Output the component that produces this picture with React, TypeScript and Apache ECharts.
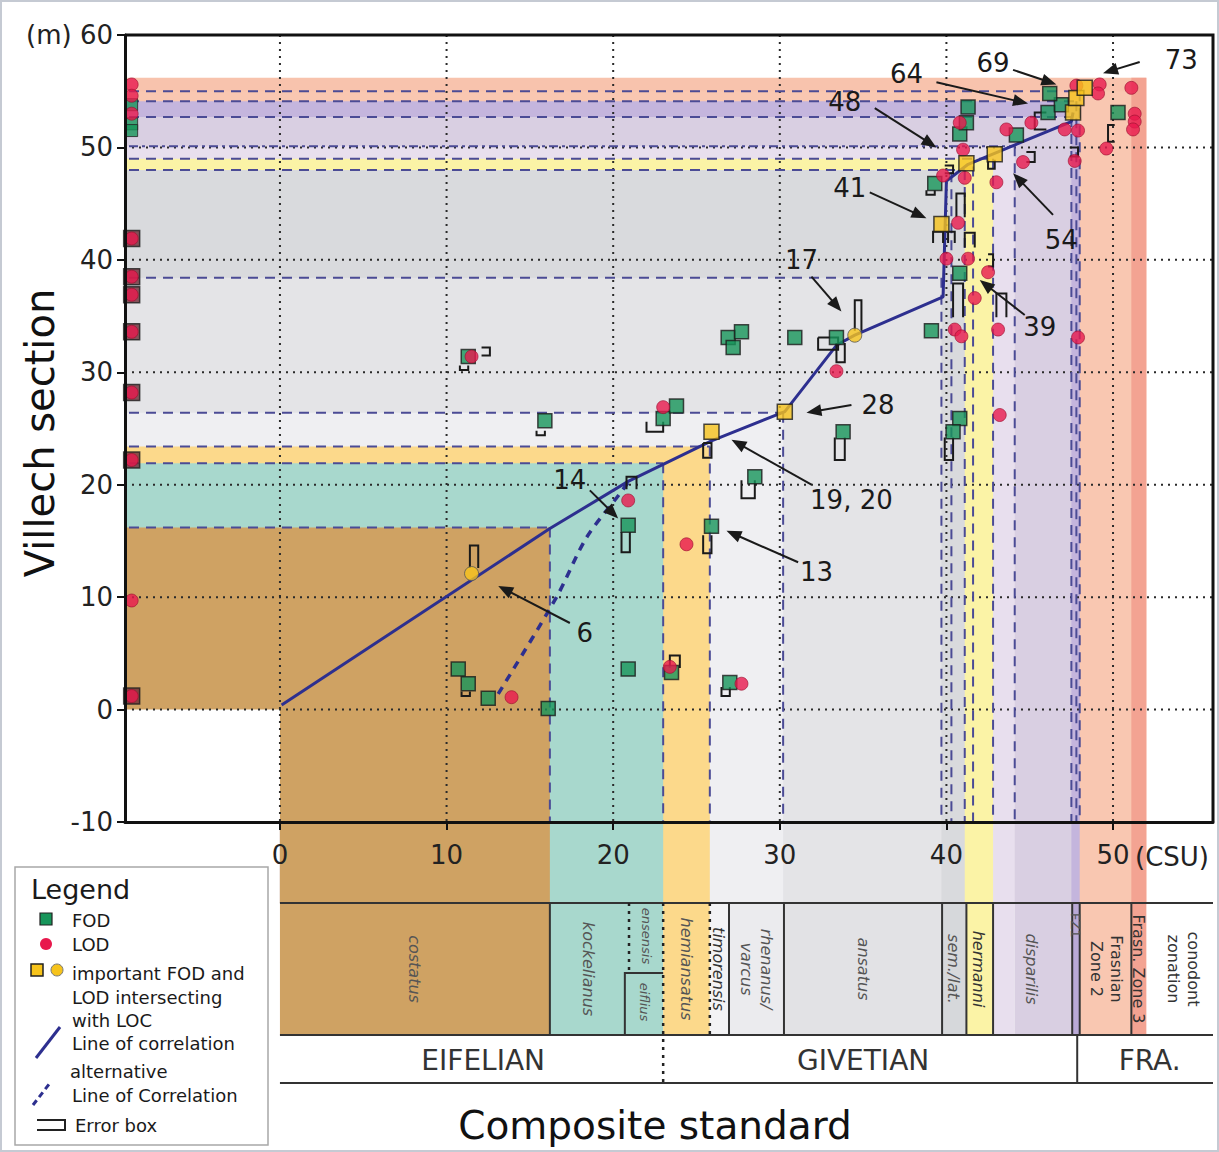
import React, { useEffect, useRef } from "react";
import * as echarts from "echarts";

const FONT = "'DejaVu Sans', Verdana, sans-serif";

const X_MIN = -9.3;
const X_MAX = 56;
const Y_MIN = -10;
const Y_MAX = 60;
const xTickValues = [0, 10, 20, 30, 40, 50];
const gridXValues = [0, 10, 20, 30, 40, 50];
const gridYValues = [0, 10, 20, 30, 40, 50];

// FOD (green squares)
const fodPoints = [
  [15.9, 25.7], [23.0, 25.9], [23.8, 27.0], [28.5, 20.7], [20.9, 16.4], [25.9, 16.3],
  [10.7, 3.6], [11.3, 2.3], [12.5, 1.0], [16.1, 0.1], [20.9, 3.6], [23.5, 3.3], [27.0, 2.4],
  [11.3, 31.4], [26.9, 33.1], [27.7, 33.6], [27.2, 32.2], [30.9, 33.1], [33.4, 33.1],
  [33.8, 24.7], [39.1, 33.7], [40.8, 38.8], [40.8, 25.9], [40.4, 24.7], [39.3, 46.8],
  [40.8, 51.2], [41.2, 52.2], [41.3, 53.6], [44.2, 51.1], [46.1, 53.1], [46.9, 53.8],
  [46.2, 54.8], [50.3, 53.1],
];
// LOD (red circles)
const lodPoints = [
  [23.0, 26.9], [20.9, 18.6], [24.4, 14.7], [13.9, 1.1], [23.4, 3.8], [27.7, 2.3],
  [11.5, 31.4], [33.4, 30.1], [40.0, 40.1], [41.3, 40.1], [42.5, 38.9], [41.7, 36.6],
  [40.5, 33.8], [40.9, 33.2], [43.1, 33.8], [47.9, 33.1], [43.2, 26.2], [40.7, 43.3],
  [39.8, 47.5], [41.1, 47.3], [41.0, 49.8], [40.8, 52.2], [43.0, 46.9], [44.6, 48.7],
  [43.6, 51.6], [45.1, 52.2], [47.1, 51.6], [47.9, 51.5], [47.8, 55.5], [49.2, 55.6],
  [49.1, 54.8], [47.7, 48.8], [51.1, 55.3], [51.3, 53.0], [51.3, 52.3], [51.2, 51.6],
  [49.6, 49.9],
];
// important FOD / LOD intersecting the LOC
const keyFodPoints = [
  [25.9, 24.7], [30.3, 26.5], [39.7, 43.2], [41.2, 48.6], [42.9, 49.4], [47.6, 53.1],
  [47.8, 54.4], [48.3, 55.3],
];
const keyLodPoints = [[11.5, 12.1], [34.5, 33.3]];

// markers on the left margin column
const leftColumnX = -8.9;
const leftBoxedLod = [41.9, 38.5, 36.9, 33.6, 28.2, 22.2, 1.2];
const leftLod = [55.6, 54.6, 53.0, 9.7];
const leftFod = [53.8, 52.1, 51.5];

// line of correlation
const locLine = [
  [0.1, 0.4], [16.2, 16.1], [20.9, 20.3], [25.9, 23.9], [30.3, 26.5], [33.4, 32.4],
  [34.5, 33.3], [39.8, 36.7], [40.0, 47.0], [41.3, 48.5], [47.5, 52.3], [47.6, 53.1],
];
const altLocLine = [[13.1, 1.4], [16.6, 10.0], [18.4, 15.3], [20.4, 19.2], [21.0, 20.4]];

// error boxes: x1, x2, y1, y2, open side (0 none, 1 top, 2 bottom, 3 left, 4 right)
const errorBoxes = [
  [11.4, 11.9, 12.6, 14.6, 2], [20.5, 21.0, 14.0, 15.8, 1], [20.8, 21.4, 19.6, 20.7, 2],
  [25.4, 25.9, 13.9, 15.5, 1], [25.4, 25.9, 22.4, 23.7, 0], [27.7, 28.5, 18.8, 20.4, 1],
  [15.4, 15.9, 24.4, 24.8, 1], [22.0, 23.0, 24.7, 25.6, 1], [10.9, 11.4, 1.2, 1.6, 1],
  [23.4, 24.0, 3.7, 4.8, 2], [26.5, 27.0, 1.2, 2.0, 1], [10.8, 11.3, 30.2, 30.6, 1],
  [12.1, 12.6, 31.5, 32.2, 3], [34.5, 34.9, 33.7, 36.4, 2], [32.3, 33.5, 32.0, 33.1, 0],
  [33.4, 33.9, 30.9, 32.6, 1], [33.3, 33.9, 22.2, 24.2, 1], [39.9, 40.4, 22.2, 24.2, 1],
  [40.4, 41.0, 34.9, 37.9, 2], [43.0, 43.6, 34.9, 37.0, 2], [39.2, 39.8, 41.5, 42.5, 2],
  [40.1, 40.5, 41.5, 42.5, 2], [41.1, 41.7, 41.1, 42.4, 2], [40.6, 41.1, 43.8, 45.9, 2],
  [39.9, 40.4, 47.7, 48.4, 3], [38.8, 39.3, 45.8, 46.2, 1], [42.5, 42.9, 48.1, 48.9, 1],
  [44.8, 45.3, 48.7, 49.6, 3], [45.3, 46.0, 51.6, 53.1, 4], [47.4, 47.9, 49.2, 50.0, 3],
  [42.5, 42.8, 39.4, 40.5, 3], [49.7, 50.1, 50.5, 52.0, 4],
];

// biozone bands: right edge (CSU), top (m)
const bandRight = [16.2, 23.0, 25.8, 30.2, 39.7, 41.1, 42.8, 44.1, 47.5, 48.0, 51.1, 52.0];
const bandTop = [16.2, 21.9, 23.4, 26.4, 38.4, 48.0, 49.0, 50.1, 52.7, 54.1, 55.0, 56.2];
const bandColor = [
  "#cfa263", "#a8d8cd", "#fcd98b", "#efeff2", "#e4e4e7", "#d9dadd", "#fbf3a6",
  "#e8dfee", "#d9cfe2", "#c4b5dd", "#f9c7b1", "#f8c3ad",
];
const zone3Strip = [51.1, 52.0, 56.2];

// dashed boundary lines
const dashH = [
  [16.2, 16.2], [21.9, 23.0], [23.4, 25.8], [26.4, 30.2], [38.4, 39.7], [48.0, 41.1],
  [49.0, 42.8], [52.7, 47.5], [54.1, 47.8], [55.0, 48.0],
];
const dashDotH = [[50.1, 44.1]];
const dashV = [
  [16.2, 16.2], [23.0, 21.9], [25.8, 23.4], [30.2, 26.4], [39.7, 38.4], [40.3, 47.8],
  [41.1, 48.0], [41.6, 48.3], [42.8, 49.0], [44.1, 50.1], [47.5, 52.7], [47.8, 54.1],
  [48.0, 55.0],
];

// conodont zonation table
const zoneCells = [
  [0, 16.2], [16.2, 23.0], [23.0, 25.8], [25.8, 26.95], [26.95, 30.25], [30.25, 39.74],
  [39.74, 41.2], [41.2, 42.8], [42.8, 44.1], [44.1, 47.55], [47.55, 48.0], [48.0, 51.1],
  [51.1, 52.0],
];
const zoneCellColor = [
  "#cfa263", "#a8d8cd", "#fcd98b", "#f3f3f5", "#ebebee", "#e2e2e5", "#d6d8db", "#fbf3a6",
  "#e8dfee", "#d9cfe2", "#b9a9d6", "#f9c7b1", "#f3a392",
];
const zoneSolidBounds = [16.2, 26.95, 30.25, 39.74, 41.2, 42.8, 47.55, 48.0, 51.1];
const zoneLabels = [
  "costatus", "kockelianus", "ensensis", "eiflius", "hemiansatus", "timorensis",
  "rhenanus/\nvarcus", "ansatus", "sem./lat.", "hermanni", "disparilis", "FZ1",
  "Frasnian\nZone 2", "Frasn. Zone 3", "conodont\nzonation",
];
const zoneLabelX = [8.1, 18.5, 22.0, 21.9, 24.4, 26.3, 28.6, 35.0, 40.45, 41.95, 45.1, 47.75, 49.6, 51.55, 54.2];
const zoneLabelRow = [0.5, 0.5, 0.25, 0.75, 0.5, 0.5, 0.5, 0.5, 0.5, 0.5, 0.5, 0.17, 0.5, 0.5, 0.5];
const zoneLabelItalic = [1, 1, 1, 1, 1, 1, 1, 1, 1, 1, 1, 0, 0, 0, 0];
const stageLabels = ["EIFELIAN", "GIVETIAN", "FRA."];
const stageLabelX = [12.2, 35.0, 52.2];
const givetianFrasnianX = 47.85;

// numbered annotations: label, text pos, arrow start, arrow tip
const annLabels = ["73", "69", "64", "48", "41", "54", "17", "39", "28", "19, 20", "13", "14", "6"];
const annText = [
  [54.1, 57.8], [42.8, 57.5], [37.6, 56.5], [33.9, 54.0], [34.2, 46.4], [46.9, 41.8],
  [31.3, 40.0], [45.6, 34.0], [35.9, 27.1], [34.3, 18.6], [32.2, 12.2], [17.4, 20.4],
  [18.3, 6.8],
];
const annFrom = [
  [51.6, 57.6], [44.0, 56.9], [39.4, 55.8], [35.7, 53.5], [35.4, 46.0], [46.4, 44.0],
  [31.9, 38.5], [44.7, 35.1], [34.3, 27.1], [31.9, 20.0], [31.1, 13.1], [18.6, 19.5],
  [17.4, 7.7],
];
const annTo = [
  [49.4, 56.6], [46.6, 55.6], [44.9, 53.9], [39.4, 50.0], [38.8, 43.7], [44.0, 47.7],
  [33.7, 35.4], [42.0, 38.2], [31.6, 26.4], [27.1, 24.0], [26.8, 15.9], [20.3, 17.0],
  [13.1, 11.0],
];

const GREEN = "#17955a";
const RED = "#e8194d";
const YELLOW = "#f6c31b";
const LOC_BLUE = "#2d2f8f";
const DASH_BLUE = "#4b4b95";

export default function App() {
  const ref = useRef<HTMLDivElement>(null);

  useEffect(() => {
    const chart = echarts.init(ref.current as HTMLDivElement, null, { renderer: "svg" });

    const baseOption: any = {
      animation: false,
      backgroundColor: "#ffffff",
      grid: { left: 125, right: 6, top: 35, bottom: 330, containLabel: false },
      xAxis: {
        type: "value",
        min: X_MIN,
        max: X_MAX,
        z: 8,
        axisLine: { show: true, onZero: false, lineStyle: { color: "#111", width: 3 } },
        axisTick: { show: true, customValues: xTickValues, length: 8, lineStyle: { color: "#111", width: 2 } },
        axisLabel: {
          customValues: xTickValues,
          margin: 20,
          fontSize: 26,
          fontFamily: FONT,
          color: "#222",
          formatter: (v: number) => String(v),
        },
        splitLine: { show: false },
      },
      yAxis: {
        type: "value",
        min: Y_MIN,
        max: Y_MAX,
        interval: 10,
        z: 8,
        axisLine: { show: true, onZero: false, lineStyle: { color: "#111", width: 3 } },
        axisTick: { show: true, length: 8, lineStyle: { color: "#111", width: 2 } },
        axisLabel: {
          margin: 12,
          fontSize: 26,
          fontFamily: FONT,
          color: "#222",
          formatter: (v: number) => (v === 60 ? "(m) 60" : String(v)),
        },
        splitLine: { show: false },
      },
      series: [
        {
          type: "line",
          name: "LOC",
          data: locLine,
          symbol: "none",
          z: 4,
          lineStyle: { color: LOC_BLUE, width: 3 },
        },
        {
          type: "line",
          name: "alternative LOC",
          data: altLocLine,
          symbol: "none",
          smooth: 0.3,
          z: 4,
          lineStyle: { color: LOC_BLUE, width: 3.5, type: [8, 7] },
        },
        {
          type: "custom",
          name: "Error box",
          data: errorBoxes,
          z: 5,
          clip: false,
          renderItem: (_params: any, api: any) => {
            const a = api.coord([api.value(0), api.value(2)]);
            const b = api.coord([api.value(1), api.value(3)]);
            const x1 = a[0];
            const x2 = b[0];
            const yb = a[1];
            const yt = b[1];
            const open = api.value(4);
            let pts: number[][];
            if (open === 1) pts = [[x1, yt], [x1, yb], [x2, yb], [x2, yt]];
            else if (open === 2) pts = [[x1, yb], [x1, yt], [x2, yt], [x2, yb]];
            else if (open === 3) pts = [[x1, yt], [x2, yt], [x2, yb], [x1, yb]];
            else if (open === 4) pts = [[x2, yt], [x1, yt], [x1, yb], [x2, yb]];
            else pts = [[x1, yt], [x2, yt], [x2, yb], [x1, yb], [x1, yt]];
            return {
              type: "polyline",
              shape: { points: pts },
              style: { stroke: "#1a1a1a", fill: null, lineWidth: 2 },
            };
          },
        },
        {
          type: "scatter",
          name: "left boxes",
          data: leftBoxedLod.map((y) => [leftColumnX, y]),
          symbol: "rect",
          symbolSize: 16,
          z: 6,
          itemStyle: { color: "#6e2a36", borderColor: "#1e1e1e", borderWidth: 1.5 },
        },
        {
          type: "scatter",
          name: "FOD left",
          data: leftFod.map((y) => [leftColumnX, y]),
          symbol: "rect",
          symbolSize: 12,
          z: 6,
          itemStyle: { color: GREEN, borderColor: "#222", borderWidth: 1 },
        },
        {
          type: "scatter",
          name: "FOD",
          data: fodPoints,
          symbol: "rect",
          symbolSize: 14,
          z: 6,
          itemStyle: { color: GREEN, borderColor: "#1b1b1b", borderWidth: 1.5 },
        },
        {
          type: "scatter",
          name: "LOD",
          data: lodPoints.concat(leftBoxedLod.map((y) => [leftColumnX, y]), leftLod.map((y) => [leftColumnX, y])),
          symbol: "circle",
          symbolSize: 13,
          z: 7,
          itemStyle: { color: RED, borderColor: "#9a1030", borderWidth: 0.8 },
        },
        {
          type: "scatter",
          name: "important FOD",
          data: keyFodPoints,
          symbol: "rect",
          symbolSize: 15,
          z: 8,
          itemStyle: { color: YELLOW, borderColor: "#1b1b1b", borderWidth: 1.5 },
        },
        {
          type: "scatter",
          name: "important LOD",
          data: keyLodPoints,
          symbol: "circle",
          symbolSize: 14,
          z: 8,
          itemStyle: { color: YELLOW, borderColor: "#555", borderWidth: 1 },
        },
      ],
    };

    chart.setOption(baseOption);

    const p = (x: number, y: number): number[] =>
      chart.convertToPixel({ gridIndex: 0 }, [x, y]) as number[];

    const g: any[] = [];
    const left = p(X_MIN, 0)[0];
    const right = p(X_MAX, 0)[0];
    const top = p(0, Y_MAX)[1];
    const bottom = p(0, Y_MIN)[1];
    const x0 = p(0, 0)[0];
    const row1 = bottom + 81;
    const row2 = row1 + 132;
    const row3 = row2 + 48;
    const stepY = row1 + 70;

    // biozone bands (drawn from outer to inner)
    for (let i = bandRight.length - 1; i >= 0; i--) {
      const xr = p(bandRight[i], 0)[0];
      const yt = p(0, bandTop[i])[1];
      g.push({ type: "rect", z: 0, shape: { x: left, y: yt, width: xr - left, height: bottom - yt }, style: { fill: bandColor[i] } });
      g.push({ type: "rect", z: 0, shape: { x: x0, y: bottom, width: xr - x0, height: row1 - bottom }, style: { fill: bandColor[i] } });
    }
    {
      const xa = p(zone3Strip[0], 0)[0];
      const xb = p(zone3Strip[1], 0)[0];
      const yt = p(0, zone3Strip[2])[1];
      g.push({ type: "rect", z: 0, shape: { x: xa, y: yt, width: xb - xa, height: row1 - yt }, style: { fill: "#f3a392" } });
    }
    // white corner (x<0, y<0)
    {
      const c = p(0, 0);
      g.push({ type: "rect", z: 0, shape: { x: left, y: c[1], width: c[0] - left, height: bottom - c[1] }, style: { fill: "#ffffff" } });
    }

    // dotted grid
    gridXValues.forEach((v) => {
      const x = p(v, 0)[0];
      g.push({ type: "line", z: 1, shape: { x1: x, y1: top, x2: x, y2: bottom }, style: { stroke: "#2a2a2a", lineWidth: 2, lineDash: [2, 5] } });
    });
    gridYValues.forEach((v) => {
      const y = p(0, v)[1];
      g.push({ type: "line", z: 1, shape: { x1: left, y1: y, x2: right, y2: y }, style: { stroke: "#2a2a2a", lineWidth: 2, lineDash: [2, 5] } });
    });

    // dashed boundary lines
    dashH.forEach(([yv, xe]) => {
      const a = p(X_MIN, yv);
      const b = p(xe, yv);
      g.push({ type: "line", z: 2, shape: { x1: a[0] + 4, y1: a[1], x2: b[0], y2: b[1] }, style: { stroke: DASH_BLUE, lineWidth: 2, lineDash: [10, 7] } });
    });
    dashDotH.forEach(([yv, xe]) => {
      const a = p(X_MIN, yv);
      const b = p(xe, yv);
      g.push({ type: "line", z: 2, shape: { x1: a[0] + 4, y1: a[1], x2: b[0], y2: b[1] }, style: { stroke: DASH_BLUE, lineWidth: 2, lineDash: [9, 4, 3, 4] } });
    });
    dashV.forEach(([xv, yt]) => {
      const a = p(xv, yt);
      g.push({ type: "line", z: 2, shape: { x1: a[0], y1: a[1], x2: a[0], y2: bottom }, style: { stroke: DASH_BLUE, lineWidth: 2, lineDash: [10, 7] } });
    });

    // plot frame (top and right)
    g.push({ type: "polyline", z: 9, shape: { points: [[left, top], [right, top], [right, bottom]] }, style: { stroke: "#111", lineWidth: 3, fill: null } });

    // zonation table
    zoneCells.forEach(([a, b], i) => {
      const xa = p(a, 0)[0];
      const xb = p(b, 0)[0];
      g.push({ type: "rect", z: 0, shape: { x: xa, y: row1, width: xb - xa, height: row2 - row1 }, style: { fill: zoneCellColor[i] } });
    });
    [row1, row2, row3].forEach((y) => {
      g.push({ type: "line", z: 3, shape: { x1: x0, y1: y, x2: right, y2: y }, style: { stroke: "#333", lineWidth: 2 } });
    });
    zoneSolidBounds.forEach((v) => {
      const x = p(v, 0)[0];
      g.push({ type: "line", z: 3, shape: { x1: x, y1: row1, x2: x, y2: row2 }, style: { stroke: "#333", lineWidth: 2 } });
    });
    {
      const xe = p(20.7, 0)[0];
      const xh = p(23.0, 0)[0];
      const xd = p(20.95, 0)[0];
      const xt = p(25.8, 0)[0];
      g.push({ type: "polyline", z: 3, shape: { points: [[xe, row2], [xe, stepY], [xh, stepY]] }, style: { stroke: "#333", lineWidth: 2, fill: null } });
      g.push({ type: "line", z: 3, shape: { x1: xd, y1: row1, x2: xd, y2: stepY - 3 }, style: { stroke: "#222", lineWidth: 2.5, lineDash: [3, 5] } });
      g.push({ type: "line", z: 3, shape: { x1: xh, y1: row1, x2: xh, y2: row3 }, style: { stroke: "#222", lineWidth: 2.5, lineDash: [3, 5] } });
      g.push({ type: "line", z: 3, shape: { x1: xt, y1: row1, x2: xt, y2: row2 }, style: { stroke: "#222", lineWidth: 2.5, lineDash: [3, 5] } });
      const xf = p(givetianFrasnianX, 0)[0];
      g.push({ type: "line", z: 3, shape: { x1: xf, y1: row2, x2: xf, y2: row3 }, style: { stroke: "#333", lineWidth: 2 } });
    }
    zoneLabels.forEach((t, i) => {
      const x = p(zoneLabelX[i], 0)[0];
      const y = row1 + (row2 - row1) * zoneLabelRow[i];
      const small = i === 2 || i === 3 || i === 11;
      g.push({
        type: "text",
        z: 4,
        x,
        y,
        rotation: -Math.PI / 2,
        style: {
          text: t,
          x: 0,
          y: 0,
          align: "center",
          verticalAlign: "middle",
          textAlign: "center",
          textVerticalAlign: "middle",
          fill: i >= 12 || i === 9 || i === 5 ? "#333" : "#555",
          fontFamily: FONT,
          fontStyle: zoneLabelItalic[i] ? "italic" : "normal",
          fontSize: small ? 13 : 16,
          lineHeight: 20,
        },
      });
    });
    stageLabels.forEach((t, i) => {
      const x = p(stageLabelX[i], 0)[0];
      g.push({
        type: "text",
        z: 4,
        style: {
          text: t, x, y: (row2 + row3) / 2 + 1, align: "center", verticalAlign: "middle",
          textAlign: "center", textVerticalAlign: "middle", fill: "#333", fontFamily: FONT, fontSize: 28,
        },
      });
    });

    // "(CSU)" unit after the 50 label
    {
      const x50 = p(50, 0)[0];
      g.push({
        type: "text", z: 9,
        style: { text: "(CSU)", x: x50 + 22, y: bottom + 35, align: "left", verticalAlign: "middle", textAlign: "left", textVerticalAlign: "middle", fill: "#222", fontFamily: FONT, fontSize: 26 },
      });
    }

    // axis titles
    g.push({
      type: "text", z: 9, x: 40, y: 433, rotation: Math.PI / 2,
      style: { text: "Villech section", x: 0, y: 0, align: "center", verticalAlign: "middle", textAlign: "center", textVerticalAlign: "middle", fill: "#111", fontFamily: FONT, fontSize: 40 },
    });
    g.push({
      type: "text", z: 9,
      style: { text: "Composite standard", x: 655, y: 1125, align: "center", verticalAlign: "middle", textAlign: "center", textVerticalAlign: "middle", fill: "#111", fontFamily: FONT, fontSize: 39 },
    });

    // annotations
    annLabels.forEach((t, i) => {
      const tp = p(annText[i][0], annText[i][1]);
      const fp = p(annFrom[i][0], annFrom[i][1]);
      const ep = p(annTo[i][0], annTo[i][1]);
      g.push({
        type: "text", z: 10,
        style: { text: t, x: tp[0], y: tp[1], align: "center", verticalAlign: "middle", textAlign: "center", textVerticalAlign: "middle", fill: "#1a1a1a", fontFamily: FONT, fontSize: 26 },
      });
      const dx = ep[0] - fp[0];
      const dy = ep[1] - fp[1];
      const len = Math.sqrt(dx * dx + dy * dy) || 1;
      const ux = dx / len;
      const uy = dy / len;
      const hl = 15;
      const hw = 6;
      const bx = ep[0] - ux * hl;
      const by = ep[1] - uy * hl;
      g.push({ type: "line", z: 10, shape: { x1: fp[0], y1: fp[1], x2: bx + ux * 2, y2: by + uy * 2 }, style: { stroke: "#1a1a1a", lineWidth: 2 } });
      g.push({
        type: "polygon", z: 10,
        shape: { points: [[ep[0], ep[1]], [bx - uy * hw, by + ux * hw], [bx + uy * hw, by - ux * hw]] },
        style: { fill: "#1a1a1a" },
      });
    });

    // legend
    const L: any[] = [];
    L.push({ type: "rect", z: 10, shape: { x: 15, y: 867, width: 253, height: 278 }, style: { fill: "#fff", stroke: "#a8a8a8", lineWidth: 1.5 } });
    const lt = (text: string, x: number, y: number, size = 18) =>
      L.push({ type: "text", z: 11, style: { text, x, y, align: "left", verticalAlign: "middle", textAlign: "left", textVerticalAlign: "middle", fill: "#1a1a1a", fontFamily: FONT, fontSize: size } });
    lt("Legend", 31, 889, 27);
    L.push({ type: "rect", z: 11, shape: { x: 40, y: 913, width: 12, height: 12 }, style: { fill: GREEN, stroke: "#222", lineWidth: 1.2 } });
    lt("FOD", 72, 920);
    L.push({ type: "circle", z: 11, shape: { cx: 46, cy: 944, r: 6 }, style: { fill: RED } });
    lt("LOD", 72, 944);
    L.push({ type: "rect", z: 11, shape: { x: 31, y: 964, width: 12, height: 12 }, style: { fill: YELLOW, stroke: "#222", lineWidth: 1.5 } });
    L.push({ type: "circle", z: 11, shape: { cx: 57, cy: 970, r: 6 }, style: { fill: YELLOW, stroke: "#777", lineWidth: 1 } });
    lt("important FOD and", 72, 973);
    lt("LOD intersecting", 72, 997);
    lt("with LOC", 72, 1020);
    L.push({ type: "line", z: 11, shape: { x1: 36, y1: 1058, x2: 60, y2: 1027 }, style: { stroke: LOC_BLUE, lineWidth: 3 } });
    lt("Line of correlation", 72, 1043);
    lt("alternative", 70, 1071);
    L.push({ type: "line", z: 11, shape: { x1: 33, y1: 1105, x2: 50, y2: 1083 }, style: { stroke: LOC_BLUE, lineWidth: 3, lineDash: [6, 4] } });
    lt("Line of Correlation", 72, 1095);
    L.push({ type: "polyline", z: 11, shape: { points: [[37, 1120], [65, 1120], [65, 1130], [37, 1130]] }, style: { stroke: "#222", lineWidth: 2, fill: null } });
    lt("Error box", 75, 1125);

    // outer frame
    g.push({ type: "rect", z: 12, shape: { x: 1, y: 1, width: 1217, height: 1150 }, style: { fill: null, stroke: "#c5cad3", lineWidth: 2 } });

    chart.setOption({ graphic: g.concat(L) });

    return () => chart.dispose();
  }, []);

  return (
    <div
      ref={ref}
      style={{ position: "fixed", left: 0, top: 0, width: 1219, height: 1152, background: "#fff" }}
    />
  );
}
